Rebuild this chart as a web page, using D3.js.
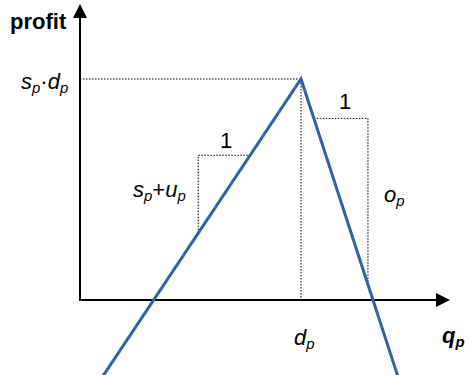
<!DOCTYPE html>
<html>
<head>
<meta charset="utf-8">
<script src="https://cdn.jsdelivr.net/npm/d3@7"></script>
<style>
  body { margin: 0; background: #fff; }
  text { font-family: "Liberation Sans", Arial, sans-serif; }
</style>
</head>
<body>
<svg id="chart" width="471" height="375"></svg>
<script>
// model parameters (d_p = 1, s_p*d_p = 1)
const dP = 1
const sP = 1
const uP = 0.5
const oP = 3.07

// where the line segments are drawn (quantity)
const qStart = 0.1
const qEnd = 1.44

// slope triangles: start q and width
const riseStart = 0.535
const riseW = 0.235
const fallStart = 1.058
const fallW = 0.245

const profit = q => q <= dP ? (sP + uP) * q - uP * dP : sP * dP - oP * (q - dP)

const svg = d3.select("#chart")

const x = d3.scaleLinear().domain([0, 1]).range([80, 301])
const y = d3.scaleLinear().domain([0, 1]).range([300, 79])

// dotted guides
const guide = svg.append("g")
    .attr("fill", "none")
    .attr("stroke", "#000")
    .attr("stroke-width", 1)
    .attr("stroke-dasharray", "1.5,1.5")

guide.append("path")
    .attr("d", d3.line()([[x(0), y(sP * dP)], [x(dP), y(sP * dP)], [x(dP), y(0)]]))

// rising triangle
let q0 = riseStart, q1 = riseStart + riseW
guide.append("path")
    .attr("d", d3.line()([[x(q0), y(profit(q0))], [x(q0), y(profit(q1))], [x(q1), y(profit(q1))]]))

// falling triangle
q0 = fallStart; q1 = fallStart + fallW
guide.append("path")
    .attr("d", d3.line()([[x(q0), y(profit(q0))], [x(q1), y(profit(q0))], [x(q1), y(profit(q1))]]))

// axes
svg.append("line")
    .attr("x1", x(0)).attr("y1", y(0))
    .attr("x2", x(0)).attr("y2", 15)
    .attr("stroke", "#000").attr("stroke-width", 2)
svg.append("path")
    .attr("d", `M${x(0) - 7},18 L${x(0)},4 L${x(0) + 7},18 Z`)
    .attr("fill", "#000")
svg.append("line")
    .attr("x1", x(0) - 1).attr("y1", y(0))
    .attr("x2", 438).attr("y2", y(0))
    .attr("stroke", "#000").attr("stroke-width", 2)
svg.append("path")
    .attr("d", `M436,${y(0) - 7} L450,${y(0)} L436,${y(0) + 7} Z`)
    .attr("fill", "#000")

// profit line
svg.append("path")
    .datum([qStart, dP, qEnd])
    .attr("d", d3.line().x(d => x(d)).y(d => y(profit(d))))
    .attr("fill", "none")
    .attr("stroke", "#3161a6")
    .attr("stroke-width", 3)

// labels
const label = (px, py, parts, opts = {}) => {
    const size = opts.size || 22
    const t = svg.append("text")
        .attr("x", px).attr("y", py)
        .attr("font-size", size)
        .attr("font-weight", opts.bold ? "bold" : null)
        .attr("text-anchor", opts.anchor || "start")
    parts.forEach(p => {
        const ts = t.append("tspan").text(p.t)
        if (p.it) ts.attr("font-style", "italic")
        if (p.sub) ts.attr("font-size", size * 0.68).attr("dy", 4)
        if (p.up) ts.attr("dy", -4)
    })
    return t
}

label(10, 29, [{ t: "profit" }], { bold: true })
label(21, 89, [{ t: "s", it: 1 }, { t: "p", it: 1, sub: 1 }, { t: "·", up: 1 }, { t: "d", it: 1 }, { t: "p", it: 1, sub: 1 }])
label(226, 148, [{ t: "1" }], { anchor: "middle" })
label(345, 109, [{ t: "1" }], { anchor: "middle" })
label(133, 197, [{ t: "s", it: 1 }, { t: "p", it: 1, sub: 1 }, { t: "+", up: 1 }, { t: "u", it: 1 }, { t: "p", it: 1, sub: 1 }])
label(384, 202, [{ t: "o", it: 1 }, { t: "p", it: 1, sub: 1 }])
label(294, 345, [{ t: "d", it: 1 }, { t: "p", it: 1, sub: 1 }])
label(442, 343, [{ t: "q", it: 1 }, { t: "p", it: 1, sub: 1 }], { bold: true })
</script>
</body>
</html>
